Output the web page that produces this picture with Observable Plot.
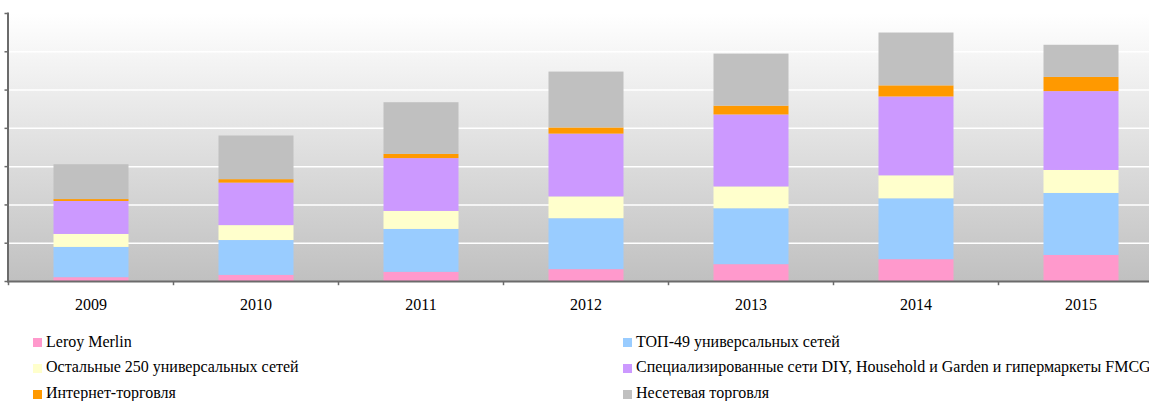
<!DOCTYPE html>
<html>
<head>
<meta charset="utf-8">
<script src="https://cdn.jsdelivr.net/npm/d3@7"></script>
<script src="https://cdn.jsdelivr.net/npm/@observablehq/plot@0.6"></script>
<style>
  html, body { margin: 0; padding: 0; background: white; }
  #wrap { position: relative; width: 1149px; height: 401px; overflow: hidden; font-family: "Liberation Serif", "Times New Roman", serif; }
  #chart { position: absolute; left: 0; top: 0; width: 1149px; height: 320px; overflow: hidden; }
  .lg { position: absolute; font-family: "Liberation Serif", serif; font-size: 16px; line-height: 16px; color: #000; white-space: nowrap; }
  .sw { position: absolute; width: 9px; height: 9px; }
</style>
</head>
<body>
<div id="wrap">
  <div id="chart"></div>
  <div id="legend"></div>
</div>
<script>
const years = ["2009", "2010", "2011", "2012", "2013", "2014", "2015"];
const seriesNames = [
  "Leroy Merlin",
  "ТОП-49 универсальных сетей",
  "Остальные 250 универсальных сетей",
  "Специализированные сети DIY, Household и Garden и гипермаркеты FMCG",
  "Интернет-торговля",
  "Несетевая торговля"
];
const seriesColors = ["#ff99cc", "#99ccff", "#ffffcc", "#cc99ff", "#ff9900", "#c0c0c0"];

const leroyMerlin = [10, 16, 24, 31, 44, 57, 68];
const top49 = [79, 91, 112, 133, 146, 159, 162];
const other250 = [34, 39, 47, 57, 57, 60, 60];
const specialized = [86, 111, 138, 164, 188, 206, 206];
const internet = [5, 9, 11, 16, 23, 29, 37];
const nonChain = [91, 114, 135, 146, 136, 138, 84];

const yTicks = [0, 100, 200, 300, 400, 500, 600, 700];

const seriesValues = [leroyMerlin, top49, other250, specialized, internet, nonChain];
const data = [];
seriesNames.forEach((s, i) => {
  years.forEach((y, j) => data.push({year: y, series: s, value: seriesValues[i][j]}));
});

const plot = Plot.plot({
  width: 1149,
  height: 320,
  marginLeft: 7.5,
  marginRight: 0,
  marginTop: 13,
  marginBottom: 39,
  style: {fontFamily: "Liberation Serif, serif", color: "#000", background: "transparent", overflow: "hidden"},
  x: {domain: years, range: [7.5, 1162.5], padding: 0, label: null},
  y: {domain: [0, 700], label: null},
  color: {domain: seriesNames, range: seriesColors},
  marks: [
    Plot.frame({fill: "url(#bgGrad)", stroke: null}),
    Plot.ruleY(yTicks.slice(1), {stroke: "#ffffff", strokeWidth: 1.5}),
    Plot.barY(data, {x: "year", y: "value", fill: "series", insetLeft: 45.5, insetRight: 44.5}),
    Plot.ruleY([0], {stroke: "#6b6b6b", strokeWidth: 2}),
    Plot.frame({anchor: "left", stroke: "#6b6b6b", strokeWidth: 2}),
    Plot.axisY({ticks: yTicks, tickSize: 3, tickFormat: () => "", stroke: "#6b6b6b", strokeWidth: 1.5, label: null}),
    Plot.ruleX(years, {x: d => d, dx: -82.5, y1: 0, y2: -11, stroke: "#6b6b6b", strokeWidth: 1.5}),
    Plot.axisX({tickSize: 0, tickPadding: 17.5, fontSize: 16, fontFamily: "Liberation Serif, serif", label: null})
  ]
});

plot.insertAdjacentHTML("afterbegin",
  `<defs><linearGradient id="bgGrad" x1="0" y1="0" x2="0" y2="1">
     <stop offset="0" stop-color="#ffffff"/>
     <stop offset="1" stop-color="#c0c0c0"/>
   </linearGradient></defs>`);

document.getElementById("chart").appendChild(plot);

// Legend
const legend = document.getElementById("legend");
const cols = [{sw: 33, tx: 46}, {sw: 623, tx: 636}];
const rowTops = [333.5, 359.2, 385];
const swTops = [338, 363.5, 389.5];
seriesNames.forEach((s, i) => {
  const c = cols[i % 2], r = Math.floor(i / 2);
  const sw = document.createElement("div");
  sw.className = "sw";
  sw.style.left = c.sw + "px";
  sw.style.top = swTops[r] + "px";
  sw.style.background = seriesColors[i];
  legend.appendChild(sw);
  const t = document.createElement("div");
  t.className = "lg";
  t.style.left = c.tx + "px";
  t.style.top = rowTops[r] + "px";
  t.textContent = s;
  legend.appendChild(t);
});
</script>
</body>
</html>
